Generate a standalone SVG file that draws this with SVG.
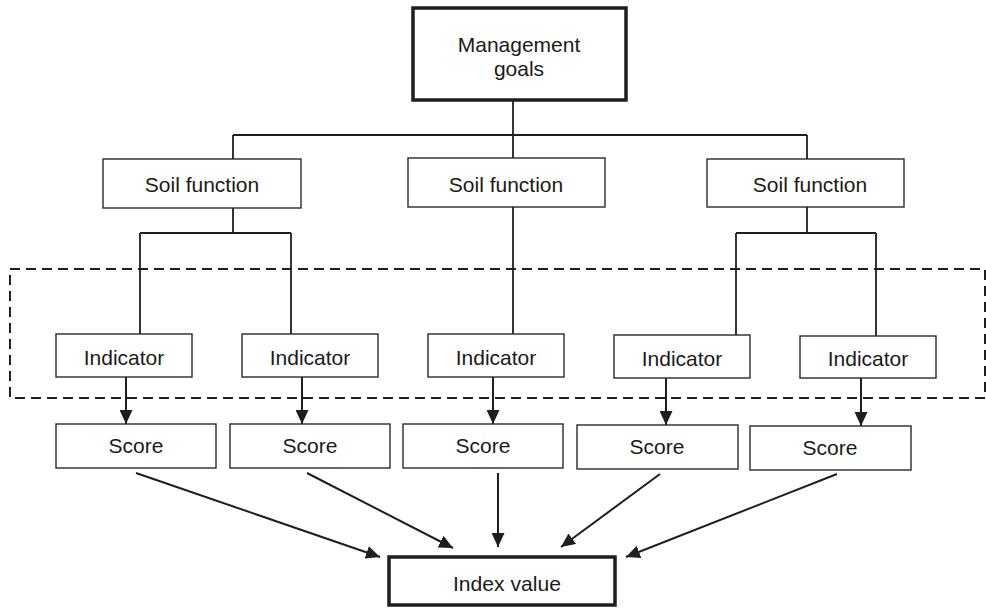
<svg xmlns="http://www.w3.org/2000/svg" width="986" height="608" viewBox="0 0 986 608">
<style>
.box{fill:#fff;stroke:#2a2a2a;stroke-width:1.4}
.thick{fill:#fff;stroke:#1e1e1e;stroke-width:3.5}
.t{font-family:"Liberation Sans",Arial,sans-serif;font-size:21px;fill:#1a1a1a;text-anchor:middle}
.ln{fill:none;stroke:#1e1e1e;stroke-width:1.8}
.ar{fill:none;stroke:#1e1e1e;stroke-width:2}
.dash{fill:none;stroke:#1e1e1e;stroke-width:2;stroke-dasharray:10 6}
</style>
<defs>
<marker id="ah" markerUnits="userSpaceOnUse" markerWidth="15" markerHeight="13" refX="14" refY="6.5" orient="auto">
<path d="M0,0 L14,6.5 L0,13 z" fill="#1e1e1e"/>
</marker>
</defs>
<rect width="986" height="608" fill="#fff"/>
<g id="group-indicators">
<rect class="dash" x="10" y="269" width="975" height="129"/>
</g>
<g id="connectors">
<path class="ln" d="M513,100 V159 M233,135 H807 M233,135 V159 M807,135 V159"/>
<path class="ln" d="M233,208 V233 M140,233 H291 M140,233 V334 M291,233 V334"/>
<path class="ln" d="M513,207 V334"/>
<path class="ln" d="M807,207 V233 M736,233 H876 M736,233 V335 M876,233 V336"/>
<line class="ar" x1="126" y1="377" x2="126" y2="424" marker-end="url(#ah)"/>
<line class="ar" x1="302" y1="377" x2="302" y2="424" marker-end="url(#ah)"/>
<line class="ar" x1="493" y1="377" x2="493" y2="424" marker-end="url(#ah)"/>
<line class="ar" x1="666" y1="378" x2="666" y2="425" marker-end="url(#ah)"/>
<line class="ar" x1="861" y1="378" x2="861" y2="426" marker-end="url(#ah)"/>
<line class="ar" x1="136" y1="473" x2="380" y2="557" marker-end="url(#ah)"/>
<line class="ar" x1="307" y1="473" x2="453" y2="548" marker-end="url(#ah)"/>
<line class="ar" x1="498" y1="473" x2="498" y2="547" marker-end="url(#ah)"/>
<line class="ar" x1="660" y1="474" x2="561" y2="547" marker-end="url(#ah)"/>
<line class="ar" x1="837" y1="474" x2="626" y2="557" marker-end="url(#ah)"/>
</g>
<g id="management-goals">
<rect class="thick" x="413" y="8" width="213" height="92"/>
<text class="t" x="519" y="52">Management</text>
<text class="t" x="519" y="76">goals</text>
</g>
<g id="soil-function-1">
<rect class="box" x="103" y="159" width="198" height="49"/>
<text class="t" x="202" y="192">Soil function</text>
</g>
<g id="soil-function-2">
<rect class="box" x="408" y="158" width="197" height="49"/>
<text class="t" x="506" y="192">Soil function</text>
</g>
<g id="soil-function-3">
<rect class="box" x="707" y="159" width="197" height="48"/>
<text class="t" x="810" y="192">Soil function</text>
</g>
<g id="indicator-1">
<rect class="box" x="56" y="334" width="136" height="43"/>
<text class="t" x="124" y="365">Indicator</text>
</g>
<g id="indicator-2">
<rect class="box" x="242" y="334" width="136" height="43"/>
<text class="t" x="310" y="365">Indicator</text>
</g>
<g id="indicator-3">
<rect class="box" x="428" y="334" width="136" height="43"/>
<text class="t" x="496" y="365">Indicator</text>
</g>
<g id="indicator-4">
<rect class="box" x="614" y="335" width="136" height="43"/>
<text class="t" x="682" y="366">Indicator</text>
</g>
<g id="indicator-5">
<rect class="box" x="800" y="336" width="136" height="42"/>
<text class="t" x="868" y="366">Indicator</text>
</g>
<g id="score-1">
<rect class="box" x="56" y="424" width="160" height="44"/>
<text class="t" x="136" y="453">Score</text>
</g>
<g id="score-2">
<rect class="box" x="230" y="424" width="160" height="44"/>
<text class="t" x="310" y="453">Score</text>
</g>
<g id="score-3">
<rect class="box" x="403" y="424" width="160" height="44"/>
<text class="t" x="483" y="453">Score</text>
</g>
<g id="score-4">
<rect class="box" x="577" y="425" width="161" height="44"/>
<text class="t" x="657" y="454">Score</text>
</g>
<g id="score-5">
<rect class="box" x="750" y="426" width="161" height="44"/>
<text class="t" x="830" y="455">Score</text>
</g>
<g id="index-value">
<rect class="thick" x="389" y="557" width="226" height="48"/>
<text class="t" x="507" y="591" font-size="21" textLength="108" lengthAdjust="spacingAndGlyphs">Index value</text>
</g>
</svg>
